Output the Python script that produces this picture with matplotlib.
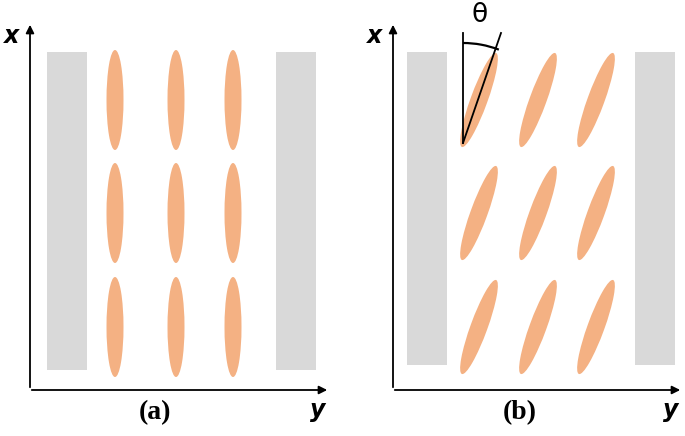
import matplotlib as mpl
mpl.use('Agg')
import matplotlib.pyplot as plt
from matplotlib.patches import Rectangle, Ellipse, Arc

# panel layout values (pixel space of the original figure)
panel_x0 = [30, 393]           # vertical axis position of each panel
panel_x1 = [330, 683]          # end of horizontal arrow
axis_top = 22
axis_bottom = 390
walls = {'a': [(47, 87), (276, 316)], 'b': [(407, 447), (635, 675)]}
wall_top, wall_bottom = {'a': 52, 'b': 52}, {'a': 370, 'b': 365}
cols = {'a': [115, 176, 233], 'b': [479, 538, 596]}
rows = [100, 213, 327]
tilt = {'a': 0, 'b': 20}       # degrees from vertical (y axis is flipped)
ell_w, ell_h = 17, 100
labels = ['(a)', '(b)']
label_x = [155, 520]

orange = '#f4b183'
grey = '#d9d9d9'

fig = plt.figure(figsize=(6.85, 4.36), dpi=100)
ax = fig.add_axes([0, 0, 1, 1])
ax.set_xlim(0, 685)
ax.set_ylim(436, 0)
ax.axis('off')

for i, key in enumerate(['a', 'b']):
    x0 = panel_x0[i]
    ax.annotate('', xy=(x0, axis_top), xytext=(x0, axis_bottom),
                arrowprops=dict(arrowstyle='-|>', color='black', lw=1.3, mutation_scale=12))
    ax.annotate('', xy=(panel_x1[i], axis_bottom), xytext=(x0 - 1, axis_bottom),
                arrowprops=dict(arrowstyle='-|>', color='black', lw=1.3, mutation_scale=12))
    ax.text(x0 - 18, 36, 'x', fontsize=17, fontweight='bold', style='italic', ha='center', va='center')
    ax.text(panel_x1[i] - 12, 410, 'y', fontsize=17, fontweight='bold', style='italic', ha='center', va='center')
    ax.text(label_x[i], 413, labels[i], fontsize=20, fontweight='bold', family='Liberation Serif',
            ha='center', va='center')
    for (l, r) in walls[key]:
        ax.add_patch(Rectangle((l, wall_top[key]), r - l, wall_bottom[key] - wall_top[key],
                               facecolor=grey, edgecolor='none'))
    for cy in rows:
        for cx in cols[key]:
            ax.add_patch(Ellipse((cx, cy), ell_w, ell_h, angle=tilt[key],
                                 facecolor=orange, edgecolor='none'))

# theta annotation on panel (b)
px, py = 463, 143
ax.plot([px, px], [py, 33], color='black', lw=1.3)
ax.plot([px, 501], [py, 33], color='black', lw=1.3)
ax.add_patch(Arc((px, py), 200, 200, theta1=270, theta2=291, color='black', lw=1.6))
ax.text(480, 15, 'θ', fontsize=19, ha='center', va='center', family='DejaVu Sans')

fig.savefig('out.png', dpi=100)
